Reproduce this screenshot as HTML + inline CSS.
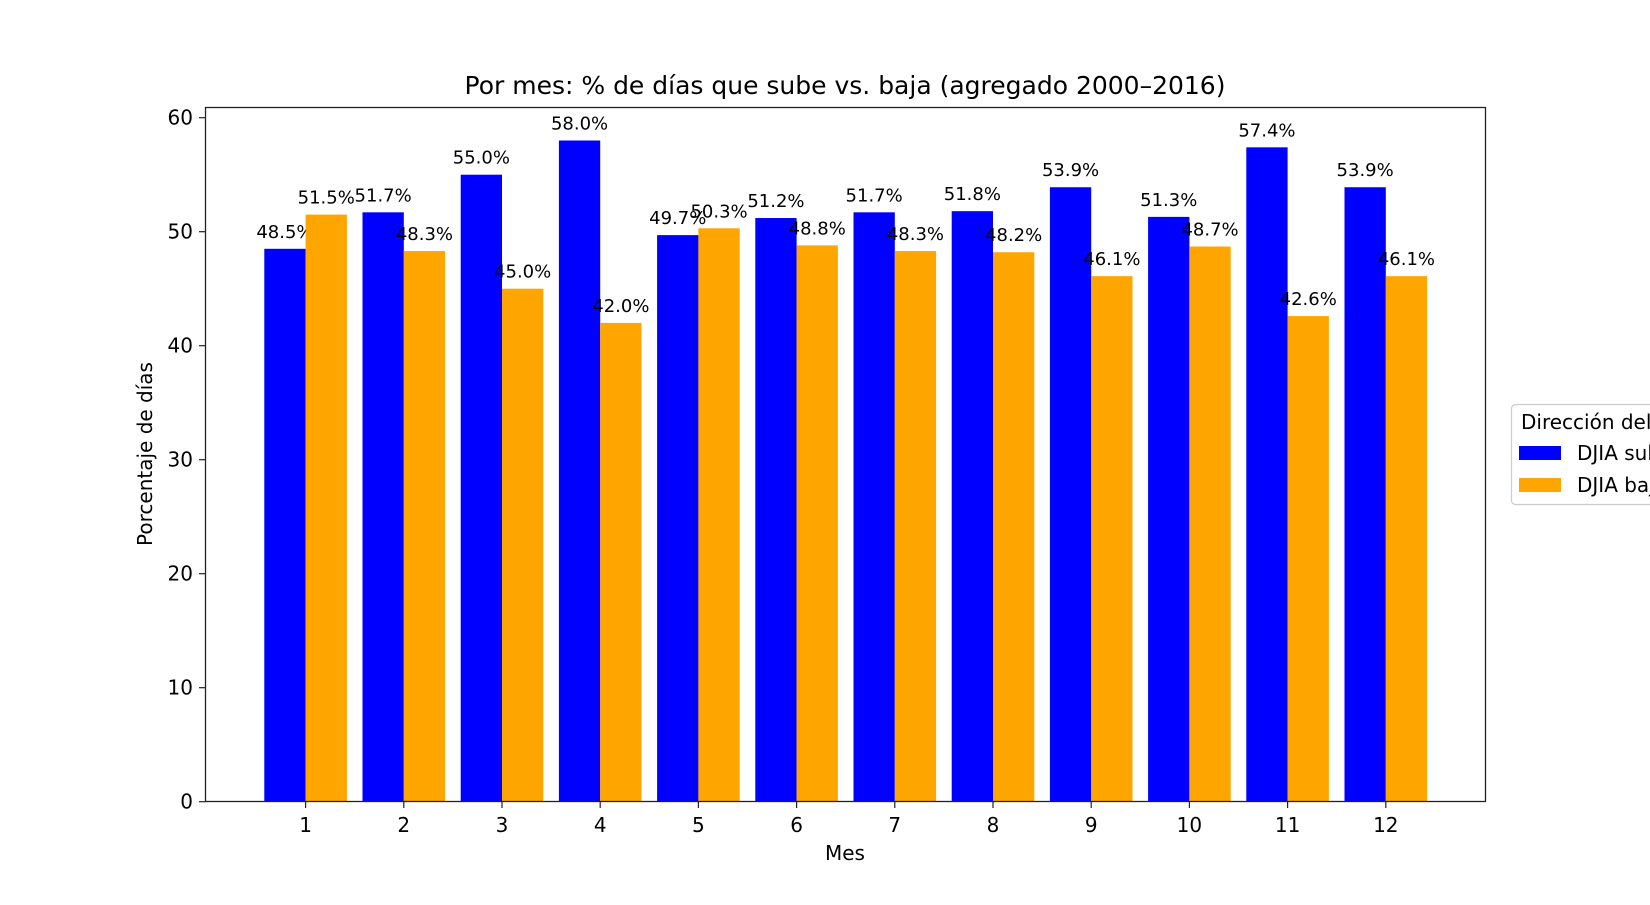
<!DOCTYPE html>
<html><head><meta charset="utf-8"><style>
body{margin:0;background:#fff;}
svg text{font-family:"DejaVu Sans","Liberation Sans",sans-serif;fill:#000;}
</style></head><body>
<svg id="chart" width="1650" height="900">
<text x="845" y="94" font-size="25" text-anchor="middle">Por mes: % de días que sube vs. baja (agregado 2000–2016)</text>
<text x="845" y="860" font-size="20" text-anchor="middle">Mes</text>
<text transform="translate(152,454) rotate(-90)" font-size="20" text-anchor="middle">Porcentaje de días</text>
<g id="bars"></g>
<g id="ticks"></g>
<rect x="205.5" y="107.5" width="1280" height="694" fill="none" stroke="#222" stroke-width="1.3"/>
<g>
<rect x="1511.5" y="404.5" width="180" height="100" rx="4" fill="#fff" stroke="#ccc" stroke-width="1.2"/>
<text x="1521" y="429" font-size="20">Dirección del día</text>
<rect x="1519" y="446" width="42" height="14" fill="#0000ff"/>
<text x="1577" y="460" font-size="20">DJIA sube</text>
<rect x="1519" y="478" width="42" height="14" fill="#ffa500"/>
<text x="1577" y="492" font-size="20">DJIA baja</text>
</g>
</svg>
<script>
const months=[1,2,3,4,5,6,7,8,9,10,11,12];
const upValues=[48.5,51.7,55.0,58.0,49.7,51.2,51.7,51.8,53.9,51.3,57.4,53.9];
const downValues=[51.5,48.3,45.0,42.0,50.3,48.8,48.3,48.2,46.1,48.7,42.6,46.1];
const yTicks=[0,10,20,30,40,50,60];
const NS="http://www.w3.org/2000/svg";
const y0=801.7, pxPer=11.4;
function yS(v){return y0-v*pxPer;}
function xS(i){return 305.6+i*98.2;}
const bw=41.3;
const bars=document.getElementById('bars'), ticks=document.getElementById('ticks');
function mk(tag,attrs,parent){const e=document.createElementNS(NS,tag);for(const k in attrs)e.setAttribute(k,attrs[k]);parent.appendChild(e);return e;}
months.forEach((m,i)=>{
  [[upValues[i],-bw,'#0000ff','up'],[downValues[i],0,'#ffa500','down']].forEach(([v,off,c,s])=>{
    const r=mk('rect',{x:xS(i)+off,y:yS(v),width:bw,height:y0-yS(v),fill:c},bars);
    
    
    const t=mk('text',{x:xS(i)+off+bw/2,y:yS(v)-11,'font-size':'18','text-anchor':'middle'},bars);
    t.textContent=v.toFixed(1)+'%';
    
    
  });
  const tl=mk('line',{x1:xS(i),x2:xS(i),y1:801.7,y2:808,stroke:'#222','stroke-width':1.2},ticks);
  
  
  const tt=mk('text',{x:xS(i),y:832,'font-size':'20','text-anchor':'middle'},ticks);
  tt.textContent=m;
  
  
});
yTicks.forEach(v=>{
  const l=mk('line',{x1:199,x2:205.5,y1:yS(v),y2:yS(v),stroke:'#222','stroke-width':1.2},ticks);
  
  
  const t=mk('text',{x:193,y:yS(v)+7,'font-size':'20','text-anchor':'end'},ticks);
  t.textContent=v;
  
  
});
</script>
</body></html>
